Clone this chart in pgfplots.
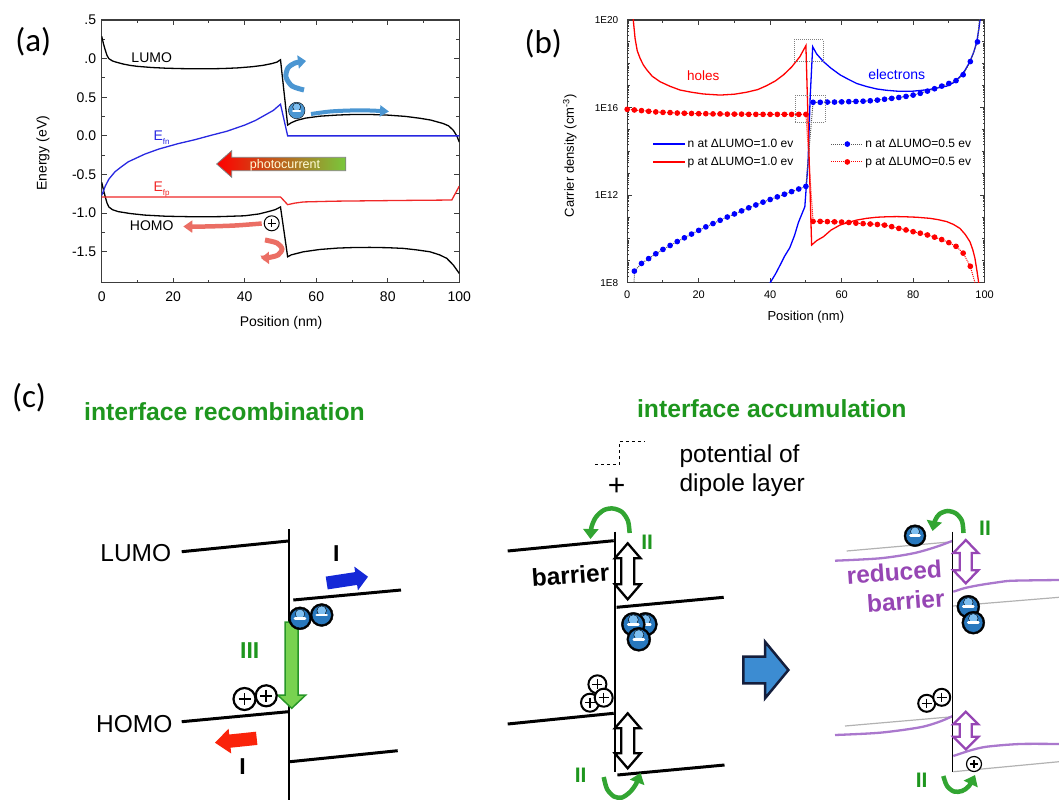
\documentclass[border=0pt]{standalone}
\usepackage{fontspec}
\setmainfont{Liberation Sans}
\newfontfamily\calib{Carlito}
\usepackage{pgfplots}
\pgfplotsset{compat=1.18}
\usetikzlibrary{arrows.meta}
\newcommand\fs[1]{\fontsize{#1}{#1}\selectfont}
\definecolor{axgray}{RGB}{60,60,60}
\definecolor{efnblue}{RGB}{40,40,225}
\definecolor{efpred}{RGB}{240,40,40}
\definecolor{cgreen}{RGB}{30,150,30}
\definecolor{agreen}{RGB}{50,165,50}
\definecolor{purp}{RGB}{150,70,180}
\definecolor{lpurp}{RGB}{170,120,205}
\definecolor{ballmid}{RGB}{40,120,190}
\definecolor{ballhi}{RGB}{125,190,240}
\definecolor{arrblue}{RGB}{75,150,210}
\definecolor{salmon}{RGB}{235,110,100}
\definecolor{iblue}{RGB}{20,40,215}
\definecolor{ired}{RGB}{250,35,10}
\definecolor{bigblue}{RGB}{60,140,210}

\def\sublist{}
\pgfplotsforeachungrouped \d in {8,...,19}{%
  \pgfplotsforeachungrouped \s in {0.301,0.477,0.602,0.699,0.778,0.845,0.903,0.954}{%
    \pgfmathparse{\d+\s}%
    \ifx\sublist\empty \xdef\sublist{\pgfmathresult}\else\xdef\sublist{\sublist,\pgfmathresult}\fi
  }%
}

% electron ball: outer r, inner r, dash half length, x, y
\newcommand\eball[5]{%
 \addplot[only marks, mark=*, mark size=#1pt, mark options={fill=black, draw=none}] coordinates {(#4,#5)};
 \addplot[only marks, mark=*, mark size=#2pt, mark options={fill=ballmid, draw=none}] coordinates {(#4,#5)};
 \addplot[only marks, mark=*, mark size={0.5*#2pt}, mark options={fill=ballhi, draw=none, yshift={0.45*#2pt}}] coordinates {(#4,#5)};
 \addplot[only marks, mark=-, mark size=#3pt, mark options={draw=white, line width=2.6pt, line cap=round}] coordinates {(#4,#5)};
}
% hole circle: r, plus size, border lw, x, y
\newcommand\hball[5]{%
 \addplot[only marks, mark=*, mark size=#1pt, mark options={fill=white, draw=black, line width=#3pt}] coordinates {(#4,#5)};
 \addplot[only marks, mark=+, mark size=#2pt, mark options={draw=black, line width=1.5pt}] coordinates {(#4,#5)};
}

\pgfplotsset{
  panel/.style={
    scale only axis, anchor=south west,
    tick align=inside, major tick length=5pt, minor tick length=3pt,
    axis line style={line width=1.3pt, draw=axgray},
    tick style={line width=1pt, draw=axgray},
    /pgf/number format/assume math mode=true,
  }
}

\begin{document}
\begin{tikzpicture}
\path[use as bounding box] (0,0) rectangle (1059pt,800pt);

% ---------------- (a) ----------------
\begin{axis}[panel, at={(101.7pt,517.3pt)}, width=357.6pt, height=262.7pt,
  xmin=0, xmax=100, ymin=-1.9, ymax=1.5,
  xtick={0,20,...,100}, minor x tick num=1,
  ytick={-1.5,-1,-0.5,0,0.5,1,1.5}, yticklabels={-1.5,-1.0,-0.5,0.0,0.5,.0,.5},
  minor y tick num=1,
  tick label style={font=\fs{14}},
  xticklabel style={yshift=-5pt}, yticklabel style={xshift=-2pt}]
\addplot[black, line width=1.3pt] coordinates {(0,1.29) (0.5,1.19) (1,1.11) (1.5,1.04) (2,1.0) (3,0.97) (4,0.955) (6,0.93) (8,0.912) (10,0.9) (14,0.885) (18,0.876) (22,0.871) (26,0.868) (30,0.868) (34,0.872) (38,0.88) (42,0.895) (45,0.912) (47.5,0.935) (49,0.955) (50,0.985) (52,0.14) (53,0.17) (54.5,0.2) (57,0.23) (61,0.255) (66,0.27) (70.4,0.277) (75,0.277) (79.7,0.27) (85,0.252) (89,0.228) (92,0.205) (95.5,0.16) (97,0.13) (98.3,0.074) (99.3,0.0) (100,-0.08)};
\addplot[black, line width=1.3pt] coordinates {(0,-0.6) (0.5,-0.7) (1,-0.79) (1.5,-0.87) (2,-0.92) (3,-0.955) (4.6,-0.98) (8,-1.005) (12,-1.025) (18,-1.04) (26,-1.047) (33,-1.045) (40,-1.034) (44,-1.01) (46.6,-0.98) (48.5,-0.955) (50,-0.92) (52,-1.565) (53,-1.54) (56.4,-1.5) (61,-1.47) (66,-1.452) (70.4,-1.445) (75,-1.443) (80,-1.447) (84.3,-1.456) (88,-1.475) (91.8,-1.5) (94.5,-1.54) (96.5,-1.585) (98.3,-1.67) (100,-1.78)};
\addplot[efnblue, line width=1.3pt] coordinates {(0,-0.77) (0.5,-0.71) (1,-0.65) (2,-0.56) (3.7,-0.465) (5.5,-0.4) (7.4,-0.336) (10,-0.28) (12.1,-0.235) (16,-0.17) (21.4,-0.1) (26,-0.05) (30.8,0.01) (35,0.06) (40,0.14) (43,0.2) (45.7,0.27) (48,0.33) (50,0.41) (52,0.0) (100,0.0)};
\addplot[efpred, line width=1.3pt] coordinates {(0,-0.79) (50,-0.79) (52,-0.89) (54,-0.87) (56.4,-0.855) (65,-0.845) (75,-0.84) (85,-0.835) (97.9,-0.83) (100,-0.65)};
\end{axis}

% ---------------- (b) ----------------
\begin{axis}[panel, at={(627.2pt,517.3pt)}, width=357.4pt, height=262.7pt,
  xmin=0, xmax=100, ymin=8, ymax=20,
  xtick={0,20,...,100}, minor x tick num=1,
  ytick={8,12,16,20}, yticklabels={1E8,1E12,1E16,1E20},
  minor ytick={9,10,11,13,14,15,17,18,19},
  extra y ticks/.expand once=\sublist, extra y tick labels={},
  extra y tick style={major tick length=2pt, tick style={line width=0.6pt}},
  xticklabel style={font=\fs{11}, yshift=-5pt},
  yticklabel style={font=\fs{10}, xshift=-5.5pt},
  legend style={at={(0.071,0.553)}, anchor=north west, draw=none, fill=none,
    inner sep=0pt, row sep=5pt, font=\fs{12}, nodes={inner sep=1.5pt},
    /tikz/every even column/.append style={column sep=36pt}},
  legend cell align=left, legend columns=2, transpose legend,
  legend image code/.code={\draw[mark repeat=2, mark phase=2, #1] plot coordinates {(0pt,0pt) (16pt,0pt) (32pt,0pt)};}]
\addplot[blue, line width=1.3pt] coordinates {(39.6,7.8) (40,8.0) (41.5,8.4) (42.8,8.81) (44,9.2) (45.5,9.6) (46.8,10.15) (47.9,10.75) (49.7,11.47) (50.6,13.5) (51.2,16.5) (51.9,18.78) (53,18.45) (54.9,18.1) (57,17.8) (59.6,17.49) (62,17.28) (64.2,17.1) (67,16.96) (69.8,16.85) (72.5,16.79) (75.4,16.75) (78,16.74) (80,16.75) (82,16.78) (84.7,16.83) (87,16.9) (89.4,16.98) (91.5,17.15) (93.1,17.41) (94.5,17.7) (95.9,18.1) (97,18.55) (97.8,19.0) (98.4,19.6) (98.7,20) (98.9,20.4)};
\addlegendentry{n at ΔLUMO=1.0 ev}
\addplot[red, line width=1.3pt] coordinates {(1.5,20.4) (1.7,20) (2.2,19.16) (2.8,18.6) (3.6,18.25) (4.5,17.95) (5.5,17.72) (7,17.43) (9.2,17.18) (12,16.97) (14.8,16.8) (18,16.7) (21.3,16.62) (26,16.57) (30,16.61) (33.4,16.7) (36.5,16.82) (39,17.0) (41.5,17.22) (43.7,17.49) (46,17.85) (48.3,18.32) (50,18.83) (51.6,9.72) (53,9.92) (54.9,10.1) (57,10.4) (59.5,10.63) (62,10.76) (64.2,10.86) (67,10.94) (69.8,10.99) (72.5,11.01) (75.4,11.02) (78,11.01) (81,10.99) (84.7,10.94) (87,10.88) (89.4,10.79) (91.3,10.66) (93.1,10.48) (94.6,10.2) (95.9,9.87) (96.7,9.5) (97.3,9.11) (97.9,8.5) (98.3,8.05) (98.6,7.5)};
\addlegendentry{p at ΔLUMO=1.0 ev}
\addplot[densely dotted, draw=gray!70!black, line width=1pt, mark=*, mark size=2.3pt, mark options={solid, fill=blue, draw=blue}] coordinates {(2,8.53) (4,8.88) (6,9.1) (8,9.32) (10,9.52) (12,9.7) (14,9.88) (16,10.05) (18,10.22) (20,10.39) (22,10.55) (24,10.7) (26,10.85) (28,11.0) (30,11.14) (32,11.28) (34,11.42) (36,11.55) (38,11.68) (40,11.8) (42,11.92) (44,12.04) (46,12.16) (48,12.28) (50,12.4) (52,16.24) (54,16.24) (56,16.25) (58,16.25) (60,16.26) (62,16.27) (64,16.28) (66,16.29) (68,16.31) (70,16.34) (72,16.38) (74,16.42) (76,16.46) (78,16.51) (80,16.57) (82,16.65) (84,16.75) (86,16.86) (88,16.98) (90,17.1) (92,17.23) (94,17.5) (96,18.1) (98,19.0)};
\addlegendentry{n at ΔLUMO=0.5 ev}
\addplot[densely dotted, draw=red, line width=1pt, mark=*, mark size=2.3pt, mark options={solid, fill=red, draw=red}] coordinates {(0,15.92) (2,15.89) (4,15.86) (6,15.83) (8,15.8) (10,15.78) (12,15.77) (14,15.75) (16,15.74) (18,15.73) (20,15.72) (22,15.72) (24,15.71) (26,15.71) (28,15.7) (30,15.7) (32,15.7) (34,15.69) (36,15.69) (38,15.69) (40,15.69) (42,15.69) (44,15.69) (46,15.69) (48,15.69) (50,15.69) (52,10.8) (54,10.8) (56,10.79) (58,10.78) (60,10.77) (62,10.75) (64,10.72) (66,10.7) (68,10.68) (70,10.66) (72,10.63) (74,10.56) (76,10.48) (78,10.41) (80,10.33) (82,10.26) (84,10.18) (86,10.08) (88,9.97) (90,9.83) (92,9.66) (94,9.35) (96,8.75)};
\addlegendentry{p at ΔLUMO=0.5 ev}
\addplot[forget plot, densely dotted, draw=gray!70!black, line width=1pt] coordinates {(1.9,7.5) (2,8.53)};
\addplot[forget plot, densely dotted, draw=gray!70!black, line width=1pt] coordinates {(98,19.0) (98.8,20.5)};
\addplot[forget plot, densely dotted, draw=red, line width=1pt] coordinates {(96,8.75) (97.3,8.0) (97.6,7.5)};
\end{axis}

% ---------------- overlay in pixel units ----------------
\begin{axis}[at={(0pt,0pt)}, anchor=south west, scale only axis, width=1059pt, height=800pt,
  xmin=0, xmax=1059, ymin=0, ymax=800, y dir=reverse, hide axis, clip=false]
% panel letters and axis labels
\node[font=\calib\fs{33}] at (33.3,41.7) {(a)};
\node[font=\calib\fs{33}] at (543.2,44) {(b)};
\node[font=\calib\fs{33}] at (29,398) {(c)};
\node[font=\fs{14}, rotate=90] at (43,153.3) {Energy (eV)};
\node[font=\fs{14}] at (281,322.5) {Position (nm)};
\node[font=\fs{13}, rotate=90] at (569.8,155.8) {Carrier density (cm\textsuperscript{-3})};
\node[font=\fs{13}] at (805.8,317) {Position (nm)};

% (a) annotations
\node[font=\fs{14}] at (151.7,57.2) {LUMO};
\node[font=\fs{14}] at (151.7,225.8) {HOMO};
\node[font=\fs{14}, text=efnblue, anchor=base west, inner sep=0pt] at (153.3,140) {E\raisebox{-4pt}{\fs{8}fn}};
\node[font=\fs{14}, text=efpred, anchor=base west, inner sep=0pt] at (153.3,191.7) {E\raisebox{-4pt}{\fs{8}fp}};
\addplot[draw=gray, line width=0.8pt, left color=red, middle color={rgb,255:red,255;green,190;blue,0}, right color={rgb,255:red,120;green,200;blue,60}] coordinates {(216.7,164) (231.7,150.7) (231.7,157.3) (345.7,157.3) (345.7,170.7) (231.7,170.7) (231.7,177.3)} -- cycle;
\node[font=\fs{12.5}, text=white!85!yellow] at (285,165) {photocurrent};
\addplot[smooth, arrblue, line width=5pt, -{Triangle[length=8pt,width=13pt]}] coordinates {(304,90) (292,86) (286,77) (288,68) (295,63) (306,61)};
\addplot[only marks, mark=*, mark size=8.3pt, mark options={fill=arrblue, draw=none}] coordinates {(296.7,110.5)};
\addplot[only marks, mark=*, mark size=4pt, mark options={fill=ballhi, draw=none, yshift=3.5pt}] coordinates {(296.7,110.5)};
\addplot[only marks, mark=-, mark size=3.5pt, mark options={draw=white, line width=2pt, line cap=round}] coordinates {(296.7,110.5)};
\addplot[smooth, arrblue, line width=4pt, -{Triangle[length=9pt,width=11pt]}] coordinates {(311,114) (330,111.5) (350,110.5) (370,110.5) (389,111.5)};
\addplot[smooth, salmon, line width=4.5pt, -{Triangle[length=9pt,width=12pt]}] coordinates {(261.7,223.5) (235,225.5) (205,226.5) (183.3,226.5)};
\addplot[smooth, salmon, line width=5pt, -{Triangle[length=8pt,width=12pt]}] coordinates {(265,240) (277,243) (282,249) (278,255) (269,257.5) (261,258)};
\hball{7.5}{4}{1}{271.7}{223.3}

% (c) titles
\node[font=\bfseries\fs{24.75}, text=cgreen] at (224.5,411.7) {interface recombination};
\node[font=\bfseries\fs{24.75}, text=cgreen] at (771.8,409) {interface accumulation};

% (c) left schematic
\node[font=\fs{24.5}] at (135.8,553.3) {LUMO};
\node[font=\fs{24.5}] at (134.2,723.8) {HOMO};
\addplot[black, line width=3pt] coordinates {(181.7,551.7) (288.3,541)};
\addplot[black, line width=3pt] coordinates {(293.3,600) (401,590)};
\addplot[black, line width=3pt] coordinates {(181.7,721.7) (288.3,711.7)};
\addplot[black, line width=3pt] coordinates {(290,761.7) (397.7,750.7)};
\addplot[black, line width=1.5pt] coordinates {(289,529) (289,800)};
\addplot[fill=iblue, draw=none] coordinates {(327.7,589.4) (357.1,584.9) (357.9,590.4) (368,576.7) (354.3,566.6) (355.1,572.1) (325.7,576.6)} -- cycle;
\addplot[fill=ired, draw=none] coordinates {(257.4,744.9) (230.6,747.7) (231.2,753.5) (215,742.7) (228.6,728.7) (229.2,734.5) (256.0,731.7)} -- cycle;
\addplot[fill={rgb,255:red,120;green,210;blue,80}, draw={rgb,255:red,40;green,150;blue,40}, line width=1.5pt] coordinates {(285.2,622) (298.2,622) (298.2,695) (305.7,695) (291.7,708.3) (277.7,695) (285.2,695)} -- cycle;
\eball{11.5}{9.6}{5}{321.7}{615}
\eball{11.5}{9.6}{5}{300}{618.3}
\hball{11}{6}{2.2}{244.5}{699}
\hball{10.5}{6}{2.2}{266.2}{695.8}
\node[font=\bfseries\fs{23}] at (336.2,553.3) {I};
\node[font=\bfseries\fs{23}] at (242.5,767) {I};
\node[font=\bfseries\fs{23}, text=cgreen] at (249.7,650.8) {III};

% (c) middle schematic
\addplot[black, dashed, line width=1pt] coordinates {(595.2,464.3) (619.6,464.3) (619.6,441) (644.3,441)};
\node[font=\fs{24.5}, anchor=base west, inner sep=0pt] at (679.4,462) {potential of};
\node[font=\fs{24.5}, anchor=base west, inner sep=0pt] at (679.4,491.7) {dipole layer};
\node[font=\fs{30}] at (616.7,486.7) {+};
\addplot[black, line width=3pt] coordinates {(507.7,551) (613.7,540.7)};
\addplot[black, line width=3pt] coordinates {(616.6,607.3) (723.7,597.3)};
\addplot[black, line width=3pt] coordinates {(507.7,724) (613.7,713.3)};
\addplot[black, line width=3pt] coordinates {(617.4,775) (724.5,765)};
\addplot[black, line width=1.5pt] coordinates {(614.8,531.7) (614.8,772)};
\addplot[fill=white, draw=black, line width=2.3pt] coordinates {(627.7,543.3) (640.6,558.3) (634.2,558.3) (634.2,584.3) (640.6,584.3) (627.7,599.3) (614.8,584.3) (621.2,584.3) (621.2,558.3) (614.8,558.3)} -- cycle;
\addplot[fill=white, draw=black, line width=2.3pt] coordinates {(627.7,713.3) (640.6,728.3) (634.2,728.3) (634.2,753.3) (640.6,753.3) (627.7,768.3) (614.8,753.3) (621.2,753.3) (621.2,728.3) (614.8,728.3)} -- cycle;
\node[font=\bfseries\fs{24.5}, rotate=4] at (570.5,575) {barrier};
\eball{12}{10.1}{5}{645.4}{624.3}
\eball{12}{10.1}{5}{633.3}{624.3}
\eball{12}{10.1}{5}{638.8}{639.3}
\hball{9}{5}{2}{597.4}{684.3}
\hball{9}{5}{2}{590}{702.7}
\hball{9}{5}{2}{603.7}{697.7}
\addplot[smooth, agreen, line width=4.5pt, -{Triangle[length=10pt,width=15pt]}] coordinates {(629.6,533) (628,521) (622,512) (613,508.5) (604,510) (596,517) (591.5,527) (590.5,539)};
\addplot[smooth, agreen, line width=4.5pt, -{Triangle[length=10pt,width=15pt]}] coordinates {(603.7,777) (607,789) (614,796.5) (622,797.5) (630,792) (636,784) (640.6,773)};
\node[font=\bfseries\fs{21}, text=cgreen] at (647.1,542.3) {II};
\node[font=\bfseries\fs{21}, text=cgreen] at (580.7,775) {II};

% big arrow
\addplot[fill=bigblue, draw={rgb,255:red,20;green,30;blue,60}, line width=2.5pt] coordinates {(743.3,656.7) (765,656.7) (765,641.7) (788.4,670) (765,698.3) (765,683.3) (743.3,683.3)} -- cycle;

% (c) right schematic
\addplot[gray!60, line width=1.2pt] coordinates {(846.7,551) (952.7,541.7)};
\addplot[gray!60, line width=1.2pt] coordinates {(953,606) (1059,597.3)};
\addplot[gray!60, line width=1.2pt] coordinates {(845,726) (952.7,716.7)};
\addplot[gray!60, line width=1.2pt] coordinates {(953.3,771.7) (1059,761.7)};
\addplot[smooth, lpurp, line width=2.3pt] coordinates {(835,560.7) (880,558.3) (913.3,553.3) (936.7,546.7) (952.7,540.7)};
\addplot[smooth, lpurp, line width=2.3pt] coordinates {(953.3,591.7) (965,588) (980,585) (1000,582) (1013.3,580.7) (1059,580)};
\addplot[smooth, lpurp, line width=2.3pt] coordinates {(835,735) (880,732.7) (920,727.3) (940,721.5) (952.7,716)};
\addplot[smooth, lpurp, line width=2.3pt] coordinates {(953.3,756) (970,750.5) (986.7,746.7) (1020,744) (1059,744)};
\addplot[black, line width=1.5pt] coordinates {(952.7,531.7) (952.7,771.7)};
\addplot[fill=white, draw=purp, line width=2.3pt] coordinates {(965.8,540) (978.3,553) (971.8,553) (971.8,570.3) (978.3,570.3) (965.8,583.3) (953.3,570.3) (959.8,570.3) (959.8,553) (953.3,553)} -- cycle;
\addplot[fill=white, draw=purp, line width=2.3pt] coordinates {(965.8,711.7) (978.3,724.2) (971.8,724.2) (971.8,736.8) (978.3,736.8) (965.8,749.3) (953.3,736.8) (959.8,736.8) (959.8,724.2) (953.3,724.2)} -- cycle;
\node[font=\bfseries\fs{24.5}, text=purp, rotate=4] at (894.2,572.5) {reduced};
\node[font=\bfseries\fs{24.5}, text=purp, rotate=4] at (905.7,600.8) {barrier};
\eball{11}{9.1}{4.5}{915}{535.7}
\eball{11.5}{9.6}{5}{968.3}{606.7}
\eball{11.5}{9.6}{5}{973.3}{622.7}
\hball{8.5}{4.8}{2}{926.7}{703.3}
\hball{8.5}{4.8}{2}{941.7}{697.3}
\hball{7.5}{4.2}{1.2}{974}{764}
\addplot[smooth, agreen, line width=4.5pt, -{Triangle[length=10pt,width=15pt]}] coordinates {(963.5,533) (962,521) (956,513.5) (947.5,511) (939.5,514) (935,520.5) (932.5,531)};
\addplot[smooth, agreen, line width=4.5pt, -{Triangle[length=10pt,width=15pt]}] coordinates {(943.3,776) (947,786) (954,791.5) (962,791) (969,786) (975,775)};
\node[font=\bfseries\fs{21}, text=cgreen] at (985,528.3) {II};
\node[font=\bfseries\fs{21}, text=cgreen] at (921.7,780) {II};

% (b) dotted boxes and labels
\addplot[gray, densely dotted, line width=1pt] coordinates {(794,40) (823.3,40) (823.3,61.7) (794,61.7)} -- cycle;
\addplot[gray, densely dotted, line width=1pt] coordinates {(795,95) (825,95) (825,122.3) (795,122.3)} -- cycle;
\node[font=\fs{13.5}, text=red] at (703.3,75.8) {holes};
\node[font=\fs{14}, text=blue] at (896.7,74.2) {electrons};
\end{axis}
\end{tikzpicture}
\end{document}
